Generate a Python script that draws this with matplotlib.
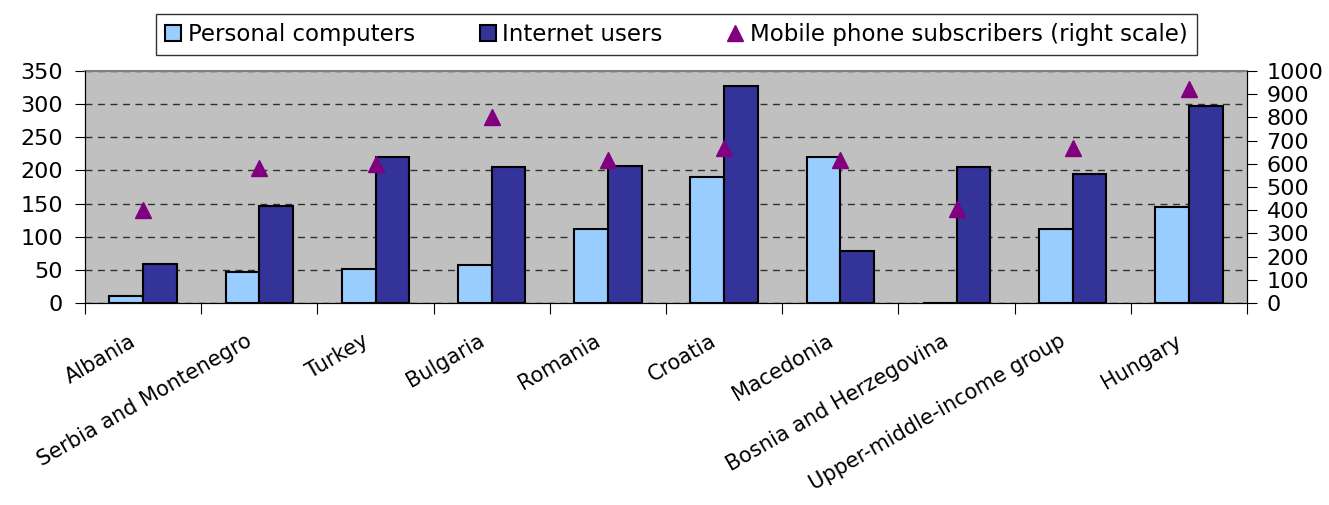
import matplotlib
matplotlib.use("Agg")
import matplotlib.pyplot as plt
import matplotlib.transforms as mtransforms
import numpy as np

categories = ["Albania", "Serbia and Montenegro", "Turkey", "Bulgaria", "Romania",
              "Croatia", "Macedonia", "Bosnia and Herzegovina",
              "Upper-middle-income group", "Hungary"]
personal_computers = [11, 47, 51, 58, 112, 190, 220, 0, 112, 145]
internet_users = [59, 147, 220, 205, 207, 327, 78, 205, 195, 297]
mobile_subscribers = [400, 582, 600, 802, 615, 668, 615, 404, 668, 921]

plt.rcParams['font.family'] = ['DejaVu Sans']

fig = plt.figure(figsize=(13.29, 5.05), dpi=100)
ax = fig.add_axes([85/1329, 1 - 303/505, (1247-85)/1329, (303-71)/505])
ax.set_facecolor("#C0C0C0")

x = np.arange(len(categories))
w = 0.29
b1 = ax.bar(x - w/2, personal_computers, w, color="#99CCFF", edgecolor="black",
            linewidth=1.5, label="Personal computers", zorder=3)
b2 = ax.bar(x + w/2, internet_users, w, color="#333399", edgecolor="black",
            linewidth=1.5, label="Internet users", zorder=3)
ax.set_ylim(0, 350)
ax.set_yticks(np.arange(0, 351, 50))
ax.set_xlim(-0.5, len(categories) - 0.5)
ax.yaxis.grid(True, linestyle=(0, (5, 4)), color="black", linewidth=1.0, alpha=0.75)
ax.set_axisbelow(True)

ax.set_xticks(np.arange(-0.5, len(categories) + 0.5, 1))
ax.set_xticklabels([])
ax.tick_params(axis='x', length=8, direction='out', color='black')
ax.set_xticks(x, minor=True)
ax.set_xticklabels(categories, minor=True, rotation=30, ha='right',
                   rotation_mode='anchor', fontsize=15)
ax.tick_params(axis='x', which='minor', length=0, pad=20)
shift = mtransforms.ScaledTranslation(-14/100, 0, fig.dpi_scale_trans)
for lbl in ax.get_xticklabels(minor=True):
    lbl.set_transform(lbl.get_transform() + shift)
ax.tick_params(axis='y', labelsize=16, length=7, direction='out', pad=9)

ax.spines['top'].set_color('#808080')
ax.spines['top'].set_linewidth(1.5)
ax.spines['left'].set_color('black')
ax.spines['bottom'].set_color('black')

ax2 = ax.twinx()
ax2.set_ylim(0, 1000)
ax2.set_yticks(np.arange(0, 1001, 100))
ax2.tick_params(axis='y', labelsize=16, length=7, direction='out', pad=7)
ax2.spines['top'].set_visible(False)
m = ax2.plot(x, mobile_subscribers, linestyle='none', marker='^', markersize=11,
             color='#800080', label="Mobile phone subscribers (right scale)", zorder=5)

handles = [b1, b2, m[0]]
labels = [h.get_label() for h in handles]
leg = fig.legend(handles, labels, loc='center', ncol=3,
                 bbox_to_anchor=((148+1205)/2/1329, 1 - 34.5/505),
                 fontsize=16.5, frameon=True, fancybox=False, handlelength=0.7,
                 handleheight=0.7, handletextpad=0.3, columnspacing=2.8,
                 borderaxespad=0, borderpad=0.4)
leg.get_frame().set_edgecolor('black')
leg.get_frame().set_linewidth(1.0)

fig.savefig("out.png", dpi=100)
